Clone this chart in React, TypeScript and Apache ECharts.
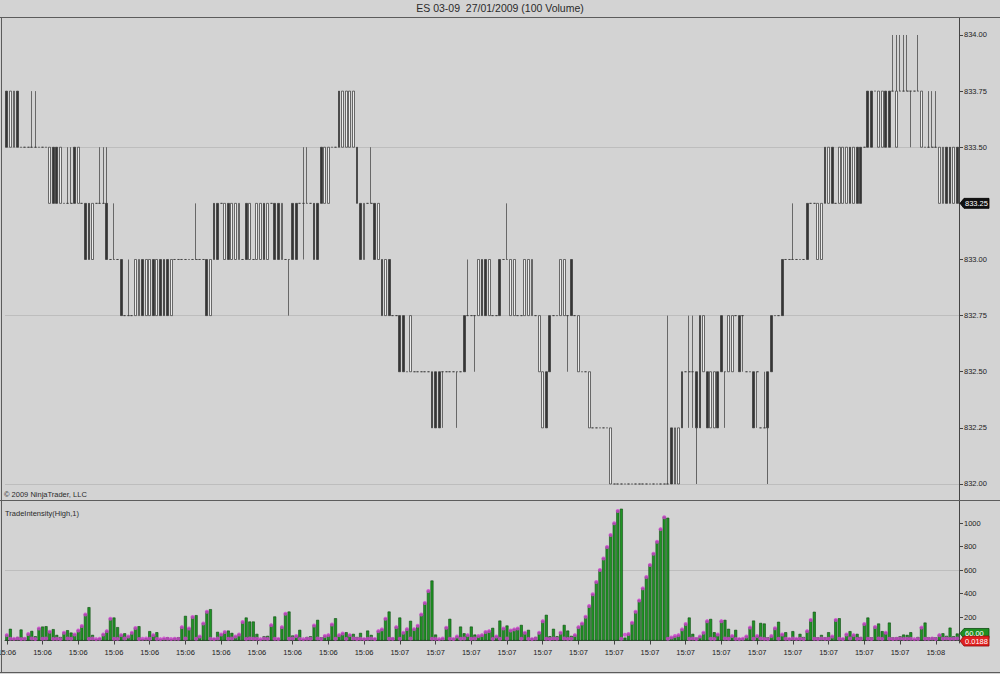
import React, { useEffect, useRef } from "react";
import * as echarts from "echarts";

const TITLE = "ES 03-09  27/01/2009 (100 Volume)";
const COPYRIGHT = "© 2009 NinjaTrader, LLC";
const INDICATOR_NAME = "TradeIntensity(High,1)";
const BASE_PRICE = 832.0;
const TICK_SIZE = 0.25;
const PRICE_MIN = 831.9287;
const PRICE_MAX = 834.0757;
const priceTicks = [832.0, 832.25, 832.5, 832.75, 833.0, 833.25, 833.5, 833.75, 834.0];
const priceGridLines = [833.5, 832.75, 832.0];
const intensityTicks = [200, 400, 600, 800, 1000];
const intensityGridLines = [600];
const lastPrice = 833.25;
const lastLowPlot = 0.0188;

const timeLabels = [
  "15:06", "15:06", "15:06", "15:06", "15:06", "15:06", "15:06", "15:06", "15:06", "15:06", "15:06",
  "15:07", "15:07", "15:07", "15:07", "15:07", "15:07", "15:07", "15:07", "15:07", "15:07", "15:07",
  "15:07", "15:07", "15:07", "15:07", "15:08",
];

// prices in ticks above 832.00 (one tick = 0.25)
const openTicks = [
  7,6,6,7,6,6,6,6,6,6, 6,6,5,6,6,5,5,5,5,6, 5,5,5,5,4,5,5,5,5,4, 4,4,4,3,3,3,3,3,4,3,
  3,4,3,4,4,4,3,4,4,4, 4,4,4,4,4,4,4,3,5,5, 5,4,5,4,4,4,4,5,4,4, 4,4,5,4,5,5,5,4,4,4,
  5,5,5,5,5,5,5,5,6,5, 5,6,6,7,6,6,6,6,6,5, 4,5,5,5,4,4,3,4,3,3, 3,3,2,2,2,2,2,2,2,2,
  2,2,2,2,2,2,2,2,3,3, 3,3,3,4,4,3,3,3,4,4, 4,3,3,3,3,3,3,3,3,2, 1,2,3,3,3,3,3,3,4,3,
  2,2,2,1,1,1,1,1,1,0, 0,0,0,0,0,0,0,0,0,0, 0,0,0,0,0,0,1,0,0,2, 2,2,2,2,3,2,2,1,1,2,
  3,2,2,2,3,3,3,2,2,2, 2,1,1,2,3,3,3,4,4,4, 4,4,4,4,5,5,5,4,4,6, 5,6,5,5,5,5,6,5,6,6,
  6,7,7,7,6,6,7,7,7,6, 7,7,7,7,7,7,6,6,6,6, 6,5,5,6,6,5,6,
];
const closeTicks = [
  6,7,7,6,6,6,6,6,6,6, 6,6,6,5,5,6,5,5,5,5, 6,5,4,4,5,5,5,5,4,4, 4,4,3,3,3,3,4,4,3,4,
  4,3,4,3,3,3,4,4,4,4, 4,4,4,4,4,4,3,4,4,4, 5,5,4,5,5,5,4,4,5,4, 5,5,4,5,5,4,4,5,4,4,
  4,4,5,5,5,5,4,4,5,6, 6,6,6,6,7,7,7,7,5,4, 5,5,5,4,5,3,4,3,3,3, 2,2,2,3,2,2,2,2,2,1,
  1,1,2,2,2,2,2,2,2,3, 3,3,4,3,3,4,3,3,3,4, 4,4,4,3,3,4,4,4,3,3, 2,1,2,3,3,4,4,3,3,3,
  3,2,2,2,1,1,1,1,1,1, 0,0,0,0,0,0,0,0,0,0, 0,0,0,0,0,0,0,1,1,1, 2,2,2,1,1,3,1,2,2,1,
  2,2,3,3,3,2,3,2,2,1, 2,1,1,1,2,3,3,3,4,4, 4,4,4,4,4,5,5,5,5,5, 6,5,5,6,6,6,5,6,5,5,
  6,6,6,7,7,7,6,6,7,7, 7,7,7,7,7,7,7,6,6,6, 6,6,6,5,5,6,5,
];
const highTicks = [
  7,7,7,7,6,6,6,7,7,6, 6,6,6,6,6,6,5,6,6,6, 6,5,5,5,5,5,6,6,6,4, 5,4,4,3,4,3,4,4,4,4,
  4,4,4,4,4,4,4,4,4,4, 4,4,4,5,4,4,4,4,5,5, 5,5,5,5,5,5,4,5,5,4, 5,5,5,5,5,5,5,5,4,4,
  5,5,5,6,6,5,5,5,6,6, 6,6,6,7,7,7,7,7,6,5, 5,5,6,5,5,4,4,4,3,3, 3,3,2,3,2,2,2,2,2,2,
  2,2,2,2,2,2,2,2,3,4, 3,3,4,4,4,4,3,3,4,4, 5,4,4,3,3,4,4,4,3,3, 2,2,3,3,3,4,4,3,4,3,
  3,2,2,2,1,1,1,1,1,1, 0,0,0,0,0,0,0,0,0,0, 0,0,0,0,0,3,1,1,1,2, 2,3,3,2,3,3,2,2,2,2,
  3,2,3,3,3,3,3,2,2,2, 2,1,2,2,3,3,3,4,4,4, 5,4,4,4,5,5,5,5,5,6, 6,6,5,6,6,6,6,6,6,6,
  6,7,7,7,7,7,7,7,8,8, 8,8,8,7,7,8,7,6,7,7, 7,6,6,6,6,6,6,
];
const lowTicks = [
  6,6,6,6,6,6,6,6,6,6, 6,6,5,5,5,5,5,5,5,5, 5,5,4,4,4,5,5,5,4,4, 4,4,3,3,3,3,3,3,3,3,
  3,3,3,3,3,3,3,4,4,4, 4,4,4,4,4,4,3,3,4,4, 5,4,4,4,4,4,4,4,4,4, 4,4,4,4,5,4,4,4,4,3,
  4,4,5,4,5,5,4,4,5,5, 5,6,6,6,6,6,6,6,5,4, 4,5,5,4,4,3,3,3,3,3, 2,2,2,2,2,2,2,2,2,1,
  1,1,1,2,2,2,1,2,2,3, 3,2,3,3,3,3,3,3,3,4, 4,3,3,3,3,3,3,3,3,2, 1,1,2,3,3,3,3,2,3,3,
  2,2,2,1,1,1,1,1,1,0, 0,0,0,0,0,0,0,0,0,0, 0,0,0,0,0,0,0,0,0,1, 2,1,1,0,1,2,1,1,1,1,
  2,1,2,2,3,2,2,2,2,1, 1,1,1,0,2,3,3,3,4,4, 4,4,4,4,4,5,5,4,4,5, 5,5,5,5,5,5,5,5,5,5,
  6,6,6,7,6,6,6,6,7,6, 7,7,7,6,7,7,6,6,6,6, 6,5,5,5,5,5,5,
];

const intensity = [
  51,100,20,30,94,25,60,82,37,108, 119,122,80,97,48,30,71,88,68,57,
  91,128,227,284,48,15,20,57,85,190, 196,114,51,62,40,71,111,122,15,20,
  80,51,71,15,20,28,15,23,28,119, 210,108,205,216,40,150,250,267,20,74,
  57,77,85,65,40,57,162,196,162,162, 57,15,37,40,136,205,20,119,233,247,
  43,43,91,15,30,37,133,176,28,43, 51,142,190,51,65,71,51,57,30,65,
  20,85,48,20,85,100,190,247,25,119, 196,71,102,168,102,131,227,324,426,511,
  51,15,23,114,185,20,40,119,62,51, 119,51,43,51,77,85,108,40,170,108,
  128,91,100,108,133,71,91,20,30,71, 170,219,37,100,37,71,133,85,40,51,
  119,150,207,298,398,503,605,704,801,903, 1003,1108,1122,25,60,156,250,346,449,545,
  648,744,846,953,1055,1045,30,40,50,100, 145,196,57,25,40,71,170,184,71,57,
  170,176,100,43,91,20,20,40,115,170, 43,150,145,28,43,110,160,57,71,20,
  80,20,57,30,85,180,245,28,48,28, 71,40,180,190,20,57,80,51,57,30,
  145,196,28,120,145,80,71,153,28,28, 37,51,48,71,15,30,115,153,28,28,
  28,51,62,40,110,37,60,
];

const highDots = [
  46,16,14,18,12,15,55,17,13,103, 15,18,75,14,16,12,66,17,15,52,
  86,123,222,14,17,12,15,52,80,185, 16,14,46,17,35,66,106,13,15,18,
  16,46,14,12,17,15,13,16,14,114, 18,103,200,15,35,145,245,16,12,17,
  52,72,15,17,35,52,157,14,18,16, 15,12,17,14,131,16,13,114,228,15,
  17,38,14,12,16,15,128,17,13,38, 46,137,15,46,60,14,46,17,13,16,
  12,15,17,13,80,95,185,16,14,114, 15,66,97,17,97,126,222,319,421,16,
  14,12,17,109,15,13,35,16,18,46, 15,17,38,46,72,80,14,35,16,103,
  17,86,95,103,15,66,14,12,17,66, 165,16,13,17,15,66,18,14,16,46,
  114,145,202,293,393,498,600,699,796,898, 998,1103,15,50,55,151,245,341,444,540,
  643,739,841,948,1050,16,25,38,46,95, 140,15,17,13,35,66,165,16,14,52,
  165,17,15,38,14,12,16,35,110,15, 38,17,14,12,38,105,16,52,15,13,
  17,14,16,12,80,175,15,13,17,14, 16,35,175,15,13,52,17,46,14,16,
  140,15,13,115,17,14,66,16,13,15, 17,14,16,15,12,13,110,16,14,17,
  13,46,15,17,14,16,18,
];

const FONT = "'Liberation Sans', Arial, sans-serif";
const BG = "#d3d3d3";
const FRAME = "#5c5c5c";
const AXIS = "#444";
const GRID_LINE = "#bdbdbd";

export default function App() {
  const ref = useRef<HTMLDivElement>(null);

  useEffect(() => {
    const el = ref.current;
    if (!el) return;
    const chart = echarts.init(el, null, { renderer: "svg" });
    const toPrice = (t: number) => BASE_PRICE + t * TICK_SIZE;
    const cats = openTicks.map((_, i) => String(i));
    const ohlc = openTicks.map((o, i) => [
      toPrice(o),
      toPrice(closeTicks[i]),
      toPrice(lowTicks[i]),
      toPrice(highTicks[i]),
    ]);

    chart.setOption({
      animation: false,
      backgroundColor: BG,
      grid: [
        { left: 5, right: 41, top: 18, height: 482, containLabel: false, outerBoundsMode: "none" },
        { left: 5, right: 41, top: 500, height: 143, containLabel: false, outerBoundsMode: "none" },
      ],
      xAxis: [
        { type: "category", gridIndex: 0, data: cats, show: false },
        {
          type: "category",
          gridIndex: 1,
          data: cats,
          axisLine: { show: true, lineStyle: { color: AXIS, width: 1 } },
          axisTick: { show: true, interval: 9, alignWithLabel: true, length: 4, lineStyle: { color: AXIS } },
          axisLabel: {
            interval: 9,
            fontSize: 7.5,
            fontFamily: FONT,
            color: "#222",
            margin: 5,
            formatter: (_v: string, idx: number) => timeLabels[Math.round(idx / 10)] ?? "",
          },
          splitLine: { show: false },
        },
      ],
      yAxis: [
        {
          type: "value",
          gridIndex: 0,
          position: "right",
          min: PRICE_MIN,
          max: PRICE_MAX,
          axisLine: { show: true, lineStyle: { color: AXIS, width: 1 } },
          axisTick: { show: true, customValues: priceTicks, length: 4, lineStyle: { color: AXIS } },
          axisLabel: {
            customValues: priceTicks,
            formatter: (v: number) => v.toFixed(2),
            fontSize: 7.5,
            fontFamily: FONT,
            color: "#222",
            margin: 5,
          },
          splitLine: { show: false },
        },
        {
          type: "value",
          gridIndex: 1,
          position: "right",
          min: -21,
          max: 1196,
          axisLine: { show: true, lineStyle: { color: AXIS, width: 1 } },
          axisTick: { show: true, customValues: intensityTicks, length: 4, lineStyle: { color: AXIS } },
          axisLabel: {
            customValues: intensityTicks,
            formatter: (v: number) => String(v),
            fontSize: 7.5,
            fontFamily: FONT,
            color: "#222",
            margin: 5,
          },
          splitLine: { show: false },
        },
      ],
      series: [
        {
          type: "line",
          xAxisIndex: 0,
          yAxisIndex: 0,
          data: [],
          z: 0,
          markLine: {
            silent: true,
            z: 0,
            symbol: ["none", "none"],
            label: { show: false },
            lineStyle: { color: GRID_LINE, width: 1, type: "solid" },
            data: priceGridLines.map((p) => ({ yAxis: p })),
          },
        },
        {
          type: "line",
          xAxisIndex: 1,
          yAxisIndex: 1,
          data: [],
          z: 0,
          markLine: {
            silent: true,
            z: 0,
            symbol: ["none", "none"],
            label: { show: false },
            lineStyle: { color: GRID_LINE, width: 1, type: "solid" },
            data: intensityGridLines.map((v) => ({ yAxis: v })),
          },
        },
        {
          type: "candlestick",
          xAxisIndex: 0,
          yAxisIndex: 0,
          data: ohlc,
          barWidth: 2.3,
          z: 3,
          itemStyle: {
            color: "#ececec",
            color0: "#353535",
            borderColor: "#333333",
            borderColor0: "#333333",
            borderColorDoji: "#3a3a3a",
            borderWidth: 0.7,
          },
        },
        {
          type: "bar",
          xAxisIndex: 1,
          yAxisIndex: 1,
          data: intensity,
          barWidth: 3,
          z: 3,
          itemStyle: { color: "#1f9424", borderColor: "#0d4a10", borderWidth: 0.6 },
        },
        {
          type: "scatter",
          xAxisIndex: 1,
          yAxisIndex: 1,
          data: highDots,
          symbol: "circle",
          symbolSize: 4,
          itemStyle: { color: "#cf3fd0" },
          z: 5,
        },
      ],
    });

    const yPrice = chart.convertToPixel({ yAxisIndex: 0 }, lastPrice) as number;
    const yIntensity = chart.convertToPixel({ yAxisIndex: 1 }, intensity[intensity.length - 1]) as number;
    const yLow = chart.convertToPixel({ yAxisIndex: 1 }, lastLowPlot) as number;

    const tag = (y: number, fill: string, stroke: string, text: string) => [
      {
        type: "polygon",
        shape: { points: [[960, y], [964, y - 5], [989, y - 5], [989, y + 5], [964, y + 5]] },
        style: { fill, stroke, lineWidth: 0.8 },
        z: 20,
      },
      {
        type: "text",
        x: 965,
        y: y,
        style: {
          text,
          fill: "#ffffff",
          font: `7.5px ${FONT}`,
          align: "left",
          verticalAlign: "middle",
          textAlign: "left",
          textVerticalAlign: "middle",
        },
        z: 21,
      },
    ];

    const lineEl = (x1: number, y1: number, x2: number, y2: number) => ({
      type: "line",
      shape: { x1, y1, x2, y2 },
      style: { stroke: FRAME, lineWidth: 1 },
      z: 10,
    });

    const label = (x: number, y: number, text: string, size: number, align: string) => ({
      type: "text",
      x,
      y,
      style: {
        text,
        fill: "#2a2a2a",
        font: `${size}px ${FONT}`,
        align,
        verticalAlign: "middle",
        textAlign: align,
        textVerticalAlign: "middle",
      },
    });

    chart.setOption({
      graphic: [
        label(500, 8, TITLE, 10.5, "center"),
        lineEl(0, 17.5, 1000, 17.5),
        lineEl(1.5, 17.5, 1.5, 673),
        lineEl(0, 500.5, 1000, 500.5),
        lineEl(0, 672.5, 1000, 672.5),
        label(4, 494, COPYRIGHT, 7.5, "left"),
        label(5, 513, INDICATOR_NAME, 7.5, "left"),
        ...tag(yPrice, "#111111", "#000000", lastPrice.toFixed(2)),
        ...tag(yIntensity, "#1f8f22", "#0d4a10", intensity[intensity.length - 1].toFixed(2)),
        ...tag(yLow + 0.5, "#e02020", "#8a0a0a", String(lastLowPlot)),
      ],
    });

    return () => {
      chart.dispose();
    };
  }, []);

  return (
    <div
      ref={ref}
      style={{ position: "absolute", left: 0, top: 0, width: 1000, height: 674, background: BG }}
    />
  );
}
